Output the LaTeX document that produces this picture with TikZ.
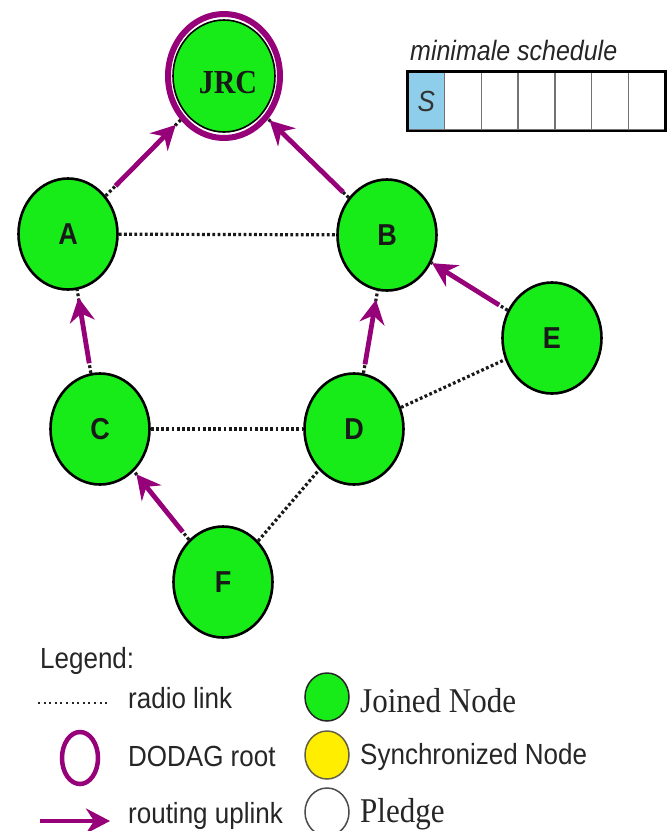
\documentclass[tikz,border=0pt]{standalone}
\usepackage{fontspec}
\usepackage{graphicx}
\setmainfont{Liberation Serif}
\setsansfont{Liberation Sans}
\usetikzlibrary{shapes.geometric,arrows.meta}

\definecolor{nodegreen}{RGB}{24,236,24}
\definecolor{rootc}{RGB}{150,0,120}
\definecolor{slotblue}{RGB}{142,206,234}
\definecolor{syncyellow}{RGB}{255,238,0}

% text is set slightly taller than wide
\newcommand{\vstretch}[1]{\scalebox{1}[1.12]{#1}}

\tikzset{
  mote/.style={ellipse, draw=black, line width=2.6pt, fill=nodegreen,
    minimum width=99pt, minimum height=111pt, inner sep=0pt,
    text=black!90, font=\fontsize{27}{27}\sffamily\bfseries},
  link/.style={draw=black!90, line width=3.2pt, dash pattern=on 2.8pt off 2.4pt},
  legdots/.style={draw=black!85, line width=2pt, dash pattern=on 2pt off 3.6pt},
  uplink/.style={draw=rootc, line width=4.8pt,
    -{Stealth[length=24pt,width=25pt,inset=8pt]}},
  lgtext/.style={anchor=base west, inner sep=0pt, text=black!85,
    font=\fontsize{26}{26}\sffamily},
  lgserif/.style={anchor=base west, inner sep=0pt, text=black!85,
    font=\fontsize{31}{31}\rmfamily},
  slot/.style={rectangle, draw=black!55, line width=1.4pt,
    minimum width=36.7pt, minimum height=58pt, inner sep=0pt},
  legnode/.style={ellipse, line width=1.5pt, minimum width=44pt,
    minimum height=48pt, inner sep=0pt},
}

\begin{document}
\begin{tikzpicture}[x=1pt,y=-1pt]
\useasboundingbox (0,0) rectangle (667,831);
\fill[white] (0,0) rectangle (667,831);

% root of the DODAG
\node[mote, line width=1.6pt, minimum width=102pt, minimum height=112pt]
  (JRC) at (224,76) {};
\node[inner sep=0pt, text=black!90, font=\fontsize{30}{30}\rmfamily\bfseries]
  (JRClabel) at (228,83) {\vstretch{JRC}};
\node[ellipse, draw=rootc, line width=6pt, minimum width=112pt,
  minimum height=124pt, inner sep=0pt] (root) at (224,76) {};

% joined nodes
\node[mote] (A) at (68,234) {\vstretch{A}};
\node[mote] (B) at (387,235) {\vstretch{B}};
\node[mote] (E) at (552,338) {\vstretch{E}};
\node[mote] (C) at (100,429) {\vstretch{C}};
\node[mote] (D) at (354,429) {\vstretch{D}};
\node[mote] (F) at (223,582) {\vstretch{F}};

% radio links
\draw[link] (A) -- (B);
\draw[link] (C) -- (D);
\draw[link] (D) -- (E);
\draw[link] (F) -- (D);
\draw[link] (A) -- (root);
\draw[link] (B) -- (root);
\draw[link] (C) -- (A);
\draw[link] (D) -- (B);
\draw[link] (E) -- (B);
\draw[link] (F) -- (C);

% routing uplinks
\draw[uplink, shorten <=14pt, shorten >=7pt] (A) -- (root);
\draw[uplink, shorten <=8pt, shorten >=2pt] (B) -- (root);
\draw[uplink, shorten <=10pt, shorten >=8pt] (C) -- (A);
\draw[uplink, shorten <=9pt, shorten >=9pt] (D) -- (B);
\draw[uplink, shorten <=10pt, shorten >=1pt] (E) -- (B);
\draw[uplink, shorten <=10pt, shorten >=4pt] (F) -- (C);

% minimal schedule
\node[anchor=base west, inner sep=0pt, text=black!85,
  font=\fontsize{25}{25}\sffamily\itshape] (schedtitle) at (410,60)
  {\vstretch{minimale schedule}};
\node[slot, fill=slotblue, text=black!80, font=\fontsize{26}{26}\sffamily\itshape]
  (c1) at (426.35,101) {\vstretch{S}};
\node[slot] (c2) at (463.05,101) {};
\node[slot] (c3) at (499.75,101) {};
\node[slot] (c4) at (536.45,101) {};
\node[slot] (c5) at (573.15,101) {};
\node[slot] (c6) at (609.85,101) {};
\node[slot] (c7) at (646.55,101) {};
\draw[black, line width=2.4pt] (c1.north west) rectangle (c7.south east);

% legend
\node[lgtext] (lgtitle) at (40,668) {\vstretch{Legend:}};
\coordinate (rl1) at (38,703);
\coordinate (rl2) at (107,703);
\draw[legdots] (rl1) -- (rl2);
\node[lgtext] (lgradio) at (128,708) {\vstretch{radio link}};

\node[ellipse, draw=rootc, line width=4.5pt, minimum width=36pt,
  minimum height=52pt, inner sep=0pt] (lgroot) at (80,758) {};
\node[lgtext] (lgroottext) at (128,766) {\vstretch{DODAG root}};

\coordinate (ua) at (40,821);
\coordinate (ub) at (110,821);
\draw[uplink] (ua) -- (ub);
\node[lgtext] (lguplink) at (128,823) {\vstretch{routing uplink}};

\node[legnode, draw=black!85, fill=nodegreen] (lgjoined) at (327,697) {};
\node[lgserif] (lgjoinedtext) at (360,712) {\vstretch{Joined Node}};
\node[legnode, draw=black!70!yellow, fill=syncyellow] (lgsync) at (327,755) {};
\node[lgtext] (lgsynctext) at (360,764) {\vstretch{Synchronized Node}};
\node[legnode, draw=black!70, fill=white] (lgpledge) at (327,812) {};
\node[lgserif] (lgpledgetext) at (360,822) {\vstretch{Pledge}};
\end{tikzpicture}
\end{document}
